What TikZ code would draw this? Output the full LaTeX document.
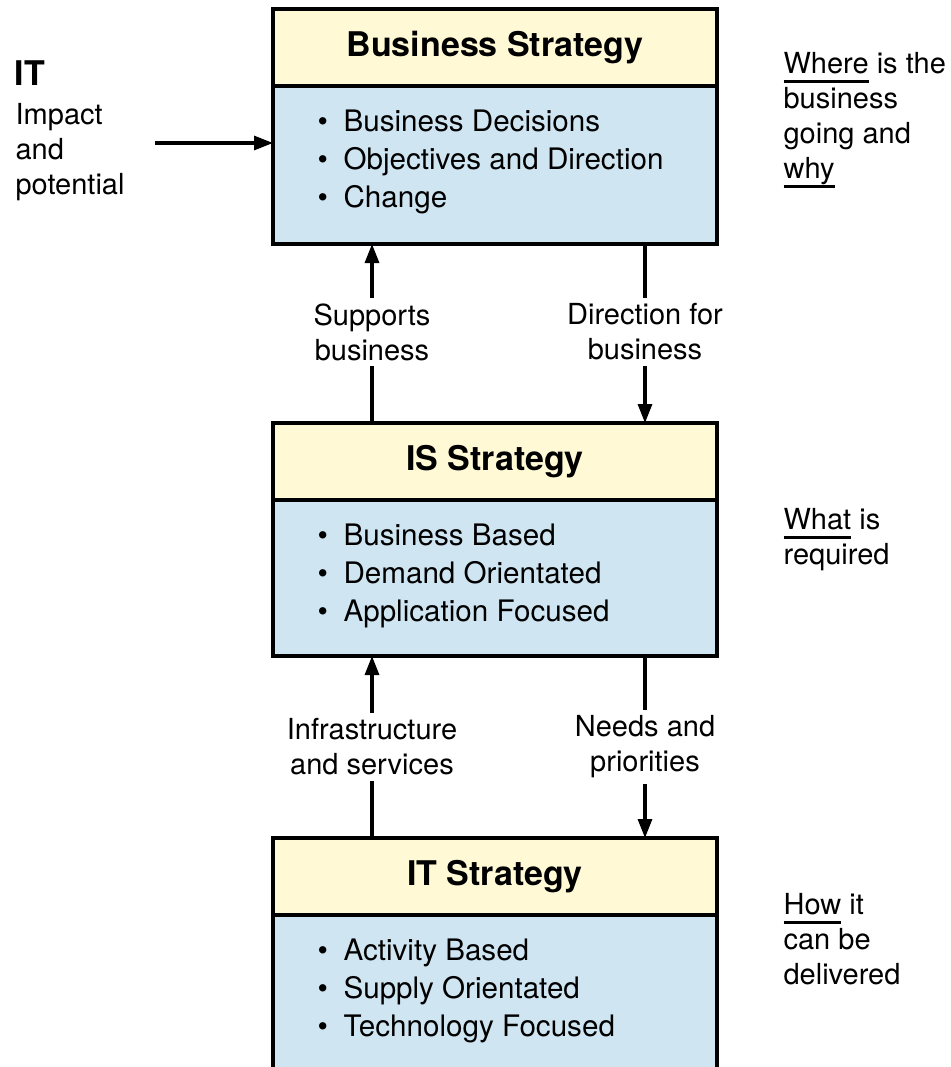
\documentclass[tikz,border=0pt]{standalone}
\usepackage{fontspec}
\setmainfont{TeX Gyre Heros}
\usetikzlibrary{arrows.meta}
\usetikzlibrary{positioning}
\tikzset{>={Triangle[length=9.5pt,width=7pt]}}
\definecolor{y1}{HTML}{FFFAD5}
\definecolor{b1}{HTML}{CFE5F1}
\newsavebox\keybox
\newcommand\keyw[1]{\sbox\keybox{#1}\rlap{\rule[-4.5pt]{\wd\keybox}{1.4pt}}\usebox\keybox}
\newcommand\itm{\makebox[13pt][l]{\textbullet}}
\tikzstyle{head}=[draw,fill=y1,outer sep=0pt,minimum width=222pt,minimum height=38.5pt,font=\bfseries\fontsize{17}{20}\selectfont]
\tikzstyle{body}=[draw,fill=b1,outer sep=0pt,minimum width=222pt]
\tikzstyle{items}=[anchor=north west,inner sep=0pt,align=left,font=\fontsize{14.8}{19}\selectfont]
\tikzstyle{flow}=[align=center,inner sep=2pt,font=\fontsize{14.5}{17.5}\selectfont]
\tikzstyle{side}=[anchor=north west,inner sep=0pt,align=left,font=\fontsize{14.5}{17.5}\selectfont]

\begin{document}
\begin{tikzpicture}[x=0.5pt,y=-0.5pt,line width=1.6pt]
  \useasboundingbox (0,0) rectangle (951,1067);
  \node[head,anchor=north] (bshead) at (495,9) {Business Strategy};
  \node[body,below=0pt of bshead,minimum height=79pt] (bsbody) {};
  \node[items] (bsitems) at ([xshift=21.5pt,yshift=-11pt]bsbody.north west)
    {\itm Business Decisions\\ \itm Objectives and Direction\\ \itm Change};
  \node[head,anchor=north] (ishead) at (495,423) {IS Strategy};
  \node[body,below=0pt of ishead,minimum height=78pt] (isbody) {};
  \node[items] (isitems) at ([xshift=21.5pt,yshift=-11pt]isbody.north west)
    {\itm Business Based\\ \itm Demand Orientated\\ \itm Application Focused};
  \node[head,anchor=north] (ithead) at (495,838) {IT Strategy};
  \node[body,below=0pt of ithead,minimum height=85pt] (itbody) {}; % runs off the page
  \node[items] (ititems) at ([xshift=21.5pt,yshift=-11pt]itbody.north west)
    {\itm Activity Based\\ \itm Supply Orientated\\ \itm Technology Focused};

  \node[flow] (sup) at (372,332) {Supports\\business};
  \node[flow] (dir) at (645,332) {Direction for\\business};
  \node[flow] (infra) at (372,747) {Infrastructure\\and services};
  \node[flow] (needs) at (645,747) {Needs and\\priorities};
  \draw (ishead.north -| sup) -- (sup);
  \draw[->] (sup) -- (bsbody.south -| sup);
  \draw (bsbody.south -| dir) -- (dir);
  \draw[->] (dir) -- (ishead.north -| dir);
  \draw (ithead.north -| infra) -- (infra);
  \draw[->] (infra) -- (isbody.south -| infra);
  \draw (isbody.south -| needs) -- (needs);
  \draw[->] (needs) -- (ithead.north -| needs);

  \node[anchor=base west,inner sep=0pt,font=\bfseries\fontsize{17}{20}\selectfont] (it) at (13,85) {IT};
  \node[side] (impact) at (14,102) {Impact\\and\\potential};
  \coordinate (itin) at (155,143);
  \draw[->] (itin) -- (bsbody.west |- itin);

  \node[side] (where) at (782,51) {\keyw{Where} is the\\business\\going and\\\keyw{why}};
  \node[side] (what) at (782,507) {\keyw{What} is\\required};
  \node[side] (how) at (782,892) {\keyw{How} it\\can be\\delivered};
\end{tikzpicture}
\end{document}
